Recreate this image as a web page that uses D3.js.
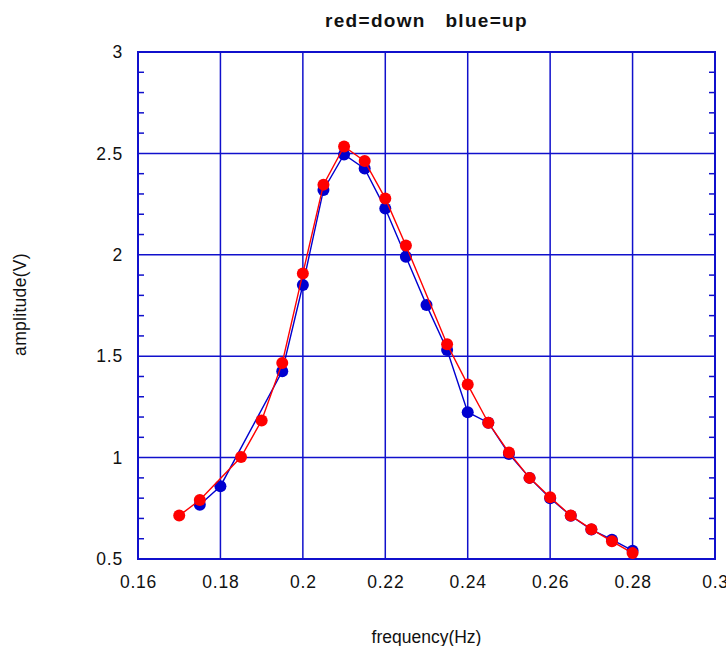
<!DOCTYPE html>
<html>
<head>
<meta charset="utf-8">
<script src="https://cdn.jsdelivr.net/npm/d3@7"></script>
<style>
  html, body { margin: 0; padding: 0; background: #fff; }
  svg { display: block; }
  text { font-family: "Liberation Sans", Arial, sans-serif; fill: #111; }
</style>
</head>
<body>
<svg id="chart" width="726" height="646"></svg>
<script>
// Frequency sweep, amplitude response (sweeping down in red, up in blue)
const downFreq = [0.17, 0.175, 0.185, 0.19, 0.195, 0.2, 0.205, 0.21, 0.215, 0.22, 0.225, 0.235, 0.24, 0.245, 0.25, 0.255, 0.26, 0.265, 0.27, 0.275, 0.28];
const downAmp  = [0.714, 0.791, 1.003, 1.183, 1.467, 1.908, 2.346, 2.534, 2.462, 2.278, 2.046, 1.559, 1.360, 1.172, 1.025, 0.900, 0.804, 0.714, 0.647, 0.587, 0.529];

const upFreq = [0.175, 0.18, 0.195, 0.2, 0.205, 0.21, 0.215, 0.22, 0.225, 0.23, 0.235, 0.24, 0.245, 0.25, 0.255, 0.26, 0.265, 0.27, 0.275, 0.28];
const upAmp  = [0.768, 0.859, 1.426, 1.851, 2.320, 2.495, 2.425, 2.228, 1.990, 1.752, 1.531, 1.224, 1.172, 1.018, 0.900, 0.800, 0.713, 0.645, 0.595, 0.541];

const xTicks = [0.16, 0.18, 0.2, 0.22, 0.24, 0.26, 0.28, 0.3];
const yTicks = [0.5, 1, 1.5, 2, 2.5, 3];
const yMinorTicks = d3.range(5, 31).map(v => v / 10);

const titleText = "red=down   blue=up";
const xLabel = "frequency(Hz)";
const yLabel = "amplitude(V)";

(function draw() {
  const svg = d3.select("#chart");
  const plotLeft = 138, plotRight = 715, plotTop = 52, plotBottom = 559;
  const gridColor = "#1010cc";
  const font = '"Liberation Sans", Arial, sans-serif';

  const x = d3.scaleLinear().domain([0.16, 0.3]).range([plotLeft, plotRight]);
  const y = d3.scaleLinear().domain([0.5, 3]).range([plotBottom, plotTop]);

  // grid lines
  const grid = svg.append("g");
  grid.selectAll("line.vx").data(xTicks).join("line")
    .attr("class", "vx")
    .attr("x1", d => x(d)).attr("x2", d => x(d))
    .attr("y1", plotTop).attr("y2", plotBottom)
    .attr("stroke", gridColor).attr("stroke-width", 1.5);
  grid.selectAll("line.hy").data(yTicks).join("line")
    .attr("class", "hy")
    .attr("x1", plotLeft).attr("x2", plotRight)
    .attr("y1", d => y(d)).attr("y2", d => y(d))
    .attr("stroke", gridColor).attr("stroke-width", 1.5);

  // minor ticks on the left and right frame edges
  const minor = yMinorTicks.filter(v => !yTicks.some(t => Math.abs(t - v) < 1e-9));
  svg.append("g").selectAll("line").data(minor).join("line")
    .attr("x1", plotLeft).attr("x2", plotLeft + 6)
    .attr("y1", d => y(d)).attr("y2", d => y(d))
    .attr("stroke", gridColor).attr("stroke-width", 1.5);
  svg.append("g").selectAll("line").data(minor).join("line")
    .attr("x1", plotRight - 6).attr("x2", plotRight)
    .attr("y1", d => y(d)).attr("y2", d => y(d))
    .attr("stroke", gridColor).attr("stroke-width", 1.5);

  // frame
  svg.append("rect")
    .attr("x", plotLeft).attr("y", plotTop)
    .attr("width", plotRight - plotLeft).attr("height", plotBottom - plotTop)
    .attr("fill", "none").attr("stroke", gridColor).attr("stroke-width", 2);

  // axis tick labels via d3 axes (domain and tick marks hidden)
  const xAxis = svg.append("g")
    .attr("transform", `translate(0,${plotBottom})`)
    .call(d3.axisBottom(x).tickValues(xTicks).tickFormat(d3.format("~g")).tickSize(0).tickPadding(17));
  const yAxis = svg.append("g")
    .attr("transform", `translate(${plotLeft},0)`)
    .call(d3.axisLeft(y).tickValues(yTicks).tickFormat(d3.format("~g")).tickSize(0).tickPadding(15));
  [xAxis, yAxis].forEach(g => {
    g.select(".domain").remove();
    g.selectAll("text")
      .style("font-family", font)
      .style("font-size", "17.5px")
      .style("letter-spacing", "0.8px")
      .attr("fill", "#111");
  });

  // series
  const line = d3.line().x(d => x(d[0])).y(d => y(d[1]));
  const series = [
    { f: upFreq, a: upAmp, color: "#0000d0" },
    { f: downFreq, a: downAmp, color: "#ff0000" }
  ];
  series.forEach(s => {
    const pts = s.f.map((f, i) => [f, s.a[i]]);
    svg.append("path").datum(pts)
      .attr("d", line).attr("fill", "none")
      .attr("stroke", s.color).attr("stroke-width", 1.4);
    svg.append("g").selectAll("circle").data(pts).join("circle")
      .attr("cx", d => x(d[0])).attr("cy", d => y(d[1]))
      .attr("r", 6).attr("fill", s.color);
  });

  // titles
  svg.append("text")
    .attr("x", (plotLeft + plotRight) / 2).attr("y", 27)
    .attr("text-anchor", "middle")
    .style("font-size", "19px").style("font-weight", "bold")
    .style("letter-spacing", "1.3px").style("white-space", "pre")
    .text(titleText);
  svg.append("text")
    .attr("x", (plotLeft + plotRight) / 2).attr("y", 643)
    .attr("text-anchor", "middle")
    .style("font-size", "17.5px")
    .text(xLabel);
  svg.append("text")
    .attr("transform", `translate(26,${(plotTop + plotBottom) / 2 - 1}) rotate(-90)`)
    .attr("text-anchor", "middle")
    .style("font-size", "17.5px")
    .style("letter-spacing", "0.3px")
    .text(yLabel);
})();
</script>
</body>
</html>
